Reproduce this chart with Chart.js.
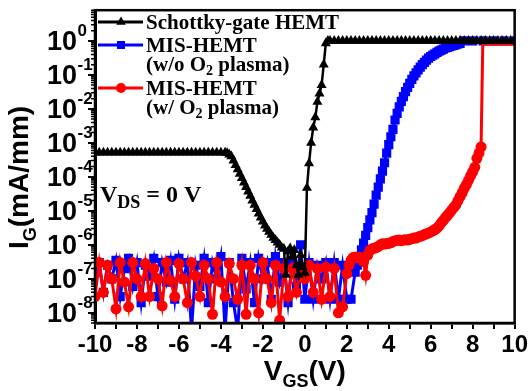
<!DOCTYPE html>
<html>
<head>
<meta charset="utf-8">
<script src="https://cdn.jsdelivr.net/npm/chart.js@4.4.0/dist/chart.umd.min.js"></script>
<style>
    html, body { margin: 0; padding: 0; background: #fff; }
    canvas { display: block; }
</style>
</head>
<body>
<canvas id="grafico" width="530" height="391"></canvas>
<script>
'use strict'

// Schottky-gate HEMT
var vgsSchottky = [-10,-9.8,-9.6,-9.4,-9.2,-9,-8.8,-8.6,-8.4,-8.2,-8,-7.8,-7.6,-7.4,-7.2,-7,-6.8,-6.6,-6.4,-6.2,-6,-5.8,-5.6,-5.4,-5.2,-5,-4.8,-4.6,-4.4,-4.2,-4,-3.8,
    -3.7,-3.6,-3.5,-3.4,-3.3,-3.2,-3.1,-3,-2.9,-2.8,-2.7,-2.6,-2.5,-2.4,-2.3,-2.2,-2.1,-2,-1.9,-1.8,-1.7,-1.6,-1.5,-1.4,-1.3,-1.2,-1.1,-1,
    -0.9,-0.8,-0.7,-0.6,-0.5,-0.4,-0.3,-0.2,-0.1,0,0.1,0.2,0.3,0.4,0.5,0.6,0.7,0.8,0.9,1,1.1,
    1.2,1.4,1.6,1.8,2,2.2,2.4,2.6,2.8,3,3.2,3.4,3.6,3.8,4,4.2,4.4,4.6,4.8,5,5.2,5.4,5.6,5.8,6,6.2,6.4,6.6,6.8,7,7.2,7.4,7.6,7.8,8,8.2,8.4,8.6,8.8,9,9.2,9.4,9.6,9.8,10];
var igSchottky = [5.2e-4,5.2e-4,5.2e-4,5.2e-4,5.2e-4,5.2e-4,5.2e-4,5.2e-4,5.2e-4,5.2e-4,5.2e-4,5.2e-4,5.2e-4,5.2e-4,5.2e-4,5.2e-4,
    5.2e-4,5.2e-4,5.2e-4,5.2e-4,5.2e-4,5.2e-4,5.2e-4,5.2e-4,5.2e-4,5.2e-4,5.2e-4,5.2e-4,5.2e-4,5.2e-4,5.2e-4,5.2e-4,
    5.0e-4,4.5e-4,4.0e-4,3.0e-4,2.2e-4,1.66e-4,1.23e-4,9.1e-5,6.8e-5,5.0e-5,3.7e-5,2.75e-5,2.0e-5,1.5e-5,1.12e-5,8.3e-6,6.3e-6,4.8e-6,3.7e-6,2.95e-6,2.4e-6,1.95e-6,1.6e-6,1.38e-6,1.17e-6,1.0e-6,8.3e-7,7.6e-7,
    1.3e-7,6.3e-7,7.9e-7,4.5e-7,7e-7,2.5e-7,1.3e-7,5e-7,2.2e-7,1.5e-7,4.7e-5,2.5e-4,1e-3,2.8e-3,5.6e-3,1.6e-2,2.8e-2,5e-2,0.2,0.85,1,
    1,1,1,1,1,1,1,1,1,1,1,1,1,1,1,1,1,1,1,1,1,1,1,1,1,1,1,1,1,1,1,1,1,1,1,1,1,1,1,1,1,1,1,1,1];

// MIS-HEMT sem plasma O2
var vgsSemPlasma = [-10,-9.8,-9.6,-9.4,-9.2,-9,-8.8,-8.6,-8.4,-8.2,-8,-7.8,-7.6,-7.4,-7.2,-7,-6.8,-6.6,-6.4,-6.2,-6,-5.8,-5.6,-5.4,-5.2,-5,-4.8,-4.6,-4.4,-4.2,
    -4,-3.8,-3.6,-3.4,-3.2,-3,-2.8,-2.6,-2.4,-2.2,-2,-1.8,-1.6,-1.4,-1.2,-1,-0.8,-0.6,-0.4,-0.2,0,0.2,0.4,0.6,0.8,1,1.2,1.4,1.6,1.8,2,2.2,
    2.4,2.5,2.6,2.7,2.8,2.9,3,3.1,3.2,3.3,3.4,3.5,3.6,3.7,3.8,3.9,4,4.1,4.2,4.3,4.4,4.5,4.6,4.7,4.8,4.9,5,5.1,5.2,5.3,
    5.4,5.5,5.6,5.7,5.8,5.9,6,6.1,6.2,6.3,6.4,6.5,6.6,6.7,6.8,6.9,7,7.1,7.2,7.3,7.4,7.6,8,8.5,9,9.5,10];
var igSemPlasma = [1.5e-7,3e-7,4e-8,2.5e-7,1e-7,3.5e-7,3e-8,2e-7,4e-7,6e-8,
    3e-7,2e-8,2.5e-7,1.2e-7,4e-7,3e-8,3e-7,8e-8,3.5e-7,2.5e-8,
    4e-7,1e-7,3e-7,3e-9,2.5e-7,6e-8,4e-7,2e-8,3e-7,1e-7,
    4.5e-7,3e-9,3e-7,2e-8,3e-9,4e-7,5e-8,3e-7,2e-8,4e-7,
    1e-7,3e-7,2.5e-8,4.5e-7,8e-8,3e-7,2e-8,3.5e-7,6e-8,1e-6,
    2.5e-8,3e-7,2.5e-8,2.5e-7,1e-7,3e-7,2.5e-8,3e-7,2.5e-8,2.5e-7,
    2.5e-8,2.5e-8,
    1.58e-7,2.5e-7,4.0e-7,7.1e-7,1.12e-6,1.9e-6,3.2e-6,5.4e-6,8.9e-6,1.58e-5,
    2.9e-5,5.0e-5,8.7e-5,1.48e-4,2.6e-4,5.0e-4,8.9e-4,1.51e-3,2.5e-3,4.7e-3,
    7.4e-3,1.15e-2,1.66e-2,2.3e-2,3.2e-2,4.3e-2,5.6e-2,7.4e-2,9.3e-2,0.115,
    0.141,0.17,0.2,0.234,0.27,0.31,0.347,0.38,0.417,0.457,
    0.5,0.537,0.575,0.617,0.646,0.676,0.708,0.741,0.776,0.813,
    0.85,1,1,1,1,1,1];

// MIS-HEMT com plasma O2
var vgsComPlasma = [-10,-9.8,-9.6,-9.4,-9.2,-9,-8.8,-8.6,-8.4,-8.2,-8,-7.8,-7.6,-7.4,-7.2,-7,-6.8,-6.6,-6.4,-6.2,-6,-5.8,-5.6,-5.4,-5.2,-5,-4.8,-4.6,-4.4,-4.2,
    -4,-3.8,-3.6,-3.4,-3.2,-3,-2.8,-2.6,-2.4,-2.2,-2,-1.8,-1.6,-1.4,-1.2,-1,-0.8,-0.6,-0.4,-0.2,0,0.2,0.4,0.6,0.8,1,1.2,1.4,1.6,1.8,
    2,2.1,2.2,2.3,2.4,2.5,2.6,2.7,2.8,2.9,3,3.1,3.2,3.3,3.4,3.5,3.6,3.7,3.8,3.9,4,4.1,4.2,4.3,4.4,4.5,4.6,4.7,4.8,4.9,
    5,5.1,5.2,5.3,5.4,5.5,5.6,5.7,5.8,5.9,6,6.1,6.2,6.3,6.4,6.5,6.6,6.7,6.8,6.9,7,7.1,7.2,7.3,7.4,7.5,7.6,7.7,7.8,7.9,
    8,8.1,8.2,8.3,8.4,8.48,9,9.5,10];
var igComPlasma = [3e-8,3e-7,4e-8,2.5e-7,1e-7,1.3e-8,3e-7,8e-8,1.5e-8,3e-7,
    1e-7,3e-8,2.8e-7,3e-8,2e-7,1e-7,1.6e-8,3e-7,9e-8,3e-8,
    2.8e-7,1e-7,2e-8,3e-7,1.2e-7,3e-8,2.5e-7,1e-7,9e-9,3e-7,
    8e-8,3e-8,2.8e-7,1e-7,2.5e-8,2.5e-7,9e-9,2.5e-7,1e-7,1e-8,
    3e-7,1e-7,2e-8,2.5e-7,6e-9,2e-7,3e-8,2e-7,4e-8,2e-7,
    1e-7,2.5e-7,4e-8,2e-7,2.5e-8,2.2e-7,3e-8,2e-7,1e-8,1.5e-8,
    1.41e-7,2.5e-7,3.5e-7,4.2e-7,4.4e-7,4.2e-7,4.3e-7,4.0e-7,3.2e-7,1.26e-7,
    5.0e-7,6.9e-7,7.6e-7,7.9e-7,8.3e-7,8.9e-7,1.0e-6,1.07e-6,1.05e-6,1.1e-6,
    1.1e-6,1.15e-6,1.26e-6,1.32e-6,1.35e-6,1.38e-6,1.32e-6,1.38e-6,1.41e-6,1.38e-6,
    1.45e-6,1.51e-6,1.58e-6,1.58e-6,1.7e-6,1.78e-6,1.86e-6,2.0e-6,2.1e-6,2.24e-6,
    2.4e-6,2.57e-6,2.82e-6,3.1e-6,3.6e-6,4.4e-6,5.2e-6,6.3e-6,7.4e-6,8.7e-6,
    1.05e-5,1.26e-5,1.5e-5,2.0e-5,2.6e-5,3.4e-5,4.6e-5,5.9e-5,7.9e-5,1.07e-4,
    1.41e-4,1.9e-4,3.5e-4,5.0e-4,7.6e-4,0.8,0.8,0.8,0.8];

var yDecadas   = [1e-8,1e-7,1e-6,1e-5,1e-4,1e-3,1e-2,1e-1,1];
var yExpoentes = ['-8','-7','-6','-5','-4','-3','-2','-1','0'];

var legendaNomes  = ['Schottky-gate HEMT', 'MIS-HEMT', 'MIS-HEMT'];
var legendaLinha2 = ['', '(w/o O_{2} plasma)', '(w/ O_{2} plasma)'];
var cores         = ['#000000', '#0000ff', '#ff0000'];
var marcadores    = ['triangle', 'rect', 'circle'];

var SANS  = '"Liberation Sans", Arial, sans-serif';
var SERIF = '"Liberation Serif", "Times New Roman", serif';

var util = {

    pontos : function(xs, ys) {
        var out = [];
        for (var i = 0; i < xs.length; i++) {
            out.push({ x: xs[i], y: ys[i] });
        }
        return out;
    } ,

    // texto com subscrito no formato A_{B}
    textoRico : function(ctx, texto, x, y, opt) {
        var partes = [], re = /_\{([^}]*)\}/g, last = 0, m;
        while ((m = re.exec(texto))) {
            if (m.index > last) partes.push({ t: texto.slice(last, m.index), sub: false });
            partes.push({ t: m[1], sub: true });
            last = re.lastIndex;
        }
        if (last < texto.length) partes.push({ t: texto.slice(last), sub: false });

        var total = 0;
        partes.forEach(function(p) {
            ctx.font = 'bold ' + (p.sub ? opt.subSize : opt.size) + 'px ' + opt.family;
            p.w = ctx.measureText(p.t).width;
            total += p.w;
        });
        var cx = opt.align === 'center' ? x - total / 2 : x;
        ctx.textAlign = 'left';
        ctx.textBaseline = 'alphabetic';
        partes.forEach(function(p) {
            ctx.font = 'bold ' + (p.sub ? opt.subSize : opt.size) + 'px ' + opt.family;
            ctx.fillText(p.t, cx, p.sub ? y + opt.drop : y);
            cx += p.w;
        });
    } ,

    marcador : function(ctx, tipo, x, y, cor) {
        ctx.fillStyle = cor;
        ctx.beginPath();
        if (tipo === 'triangle') {
            ctx.moveTo(x, y - 5.5);
            ctx.lineTo(x + 4.8, y + 2.8);
            ctx.lineTo(x - 4.8, y + 2.8);
            ctx.closePath();
        } else if (tipo === 'rect') {
            ctx.rect(x - 4, y - 4, 8, 8);
        } else {
            ctx.arc(x, y, 5, 0, Math.PI * 2);
        }
        ctx.fill();
    }
};

var moldura = {
    id: 'moldura',
    afterDraw: function(chart) {
        var ctx = chart.ctx, area = chart.chartArea, ys = chart.scales.y, xs = chart.scales.x;
        ctx.save();
        ctx.strokeStyle = '#000';
        ctx.fillStyle = '#000';

        ctx.lineWidth = 2.5;
        ctx.strokeRect(area.left, area.top, area.right - area.left, area.bottom - area.top);

        // ticks menores do eixo log
        ctx.lineWidth = 1.5;
        ctx.beginPath();
        [1e-9].concat(yDecadas).forEach(function(d) {
            for (var m = 2; m <= 9; m++) {
                var v = d * m;
                if (v < ys.min || v > ys.max) continue;
                var py = ys.getPixelForValue(v);
                ctx.moveTo(area.left - 4, py);
                ctx.lineTo(area.left, py);
            }
        });
        ctx.stroke();

        // rotulos 10^n
        yDecadas.forEach(function(d, i) {
            var py = ys.getPixelForValue(d);
            ctx.textBaseline = 'alphabetic';
            ctx.font = 'bold 27px ' + SANS;
            ctx.textAlign = 'right';
            ctx.fillText('10', 77, py + 9.5);
            ctx.font = 'bold 17px ' + SANS;
            ctx.textAlign = 'left';
            ctx.fillText(yExpoentes[i], 77.5, py - 5);
        });

        // titulos dos eixos
        util.textoRico(ctx, 'V_{GS}(V)', (xs.left + xs.right) / 2, 380,
            { family: SANS, size: 28, subSize: 18, drop: 7, align: 'center' });

        ctx.save();
        ctx.translate(28, 249);
        ctx.rotate(-Math.PI / 2);
        util.textoRico(ctx, 'I_{G}(mA/mm)', 0, 0,
            { family: SANS, size: 28, subSize: 18, drop: 8, align: 'left' });
        ctx.restore();

        // legenda
        var linhasY = [22, 45, 88];
        for (var i = 0; i < legendaNomes.length; i++) {
            var ly = linhasY[i];
            ctx.strokeStyle = cores[i];
            ctx.lineWidth = 3;
            ctx.beginPath();
            ctx.moveTo(98, ly);
            ctx.lineTo(143, ly);
            ctx.stroke();
            util.marcador(ctx, marcadores[i], 121, ly, cores[i]);
            ctx.fillStyle = '#000';
            util.textoRico(ctx, legendaNomes[i], 146, ly + 7,
                { family: SERIF, size: 21, subSize: 14, drop: 4, align: 'left' });
            if (legendaLinha2[i]) {
                util.textoRico(ctx, legendaLinha2[i], 146, ly + 26,
                    { family: SERIF, size: 21, subSize: 14, drop: 4, align: 'left' });
            }
        }

        ctx.fillStyle = '#000';
        util.textoRico(ctx, 'V_{DS} = 0 V', 100, 202,
            { family: SERIF, size: 24, subSize: 18, drop: 6, align: 'left' });

        ctx.restore();
    }
};

var grafico = {

    serie : function(i, xs, ys, ordem) {
        return {
            label: legendaNomes[i],
            data: util.pontos(xs, ys),
            borderColor: cores[i],
            backgroundColor: cores[i],
            pointBackgroundColor: cores[i],
            pointBorderColor: cores[i],
            pointBorderWidth: 0,
            borderWidth: 3,
            pointStyle: marcadores[i],
            pointRadius: 5,
            tension: 0,
            clip: 0,
            order: ordem
        };
    } ,

    init : function() {
        var ctx = document.getElementById('grafico').getContext('2d');

        var preto = this.serie(0, vgsSchottky, igSchottky, 0);
        preto.pointRadius = 5.8;
        preto.borderWidth = 2.5;
        var azul = this.serie(1, vgsSemPlasma, igSemPlasma, 2);
        azul.pointRadius = 6.5;
        var vermelho = this.serie(2, vgsComPlasma, igComPlasma, 1);
        vermelho.pointRadius = function(c) { return c.raw && c.raw.y > 0.1 ? 0 : 5.5; };

        new Chart(ctx, {
            type: 'line',
            data: {
                datasets: [preto, azul, vermelho]
            },
            options: {
                responsive: false,
                animation: false,
                layout: { padding: { top: 7, right: 15, left: 0, bottom: 0 } },
                plugins: { legend: { display: false }, tooltip: { enabled: false } },
                scales: {
                    x: {
                        type: 'linear',
                        min: -10,
                        max: 10,
                        afterFit: function(s) { s.height = 68; },
                        border: { display: true, color: '#000', width: 2.5 },
                        grid: { drawOnChartArea: false, color: '#000', lineWidth: 2, tickLength: 6 },
                        ticks: {
                            stepSize: 1,
                            autoSkip: false,
                            maxRotation: 0,
                            padding: 2,
                            color: '#000',
                            font: { family: SANS, weight: 'bold', size: 24 },
                            callback: function(v) { return v % 2 === 0 ? String(v) : ''; }
                        }
                    },
                    y: {
                        type: 'logarithmic',
                        min: 5e-9,
                        max: 8,
                        afterFit: function(s) { s.width = 95; },
                        afterBuildTicks: function(s) {
                            s.ticks = yDecadas.map(function(v) { return { value: v }; });
                        },
                        border: { display: true, color: '#000', width: 3 },
                        grid: { drawOnChartArea: false, color: '#000', lineWidth: 2, tickLength: 7 },
                        ticks: {
                            autoSkip: false,
                            callback: function() { return ''; }
                        }
                    }
                }
            },
            plugins: [moldura]
        });
    }
};

grafico.init();
</script>
</body>
</html>
